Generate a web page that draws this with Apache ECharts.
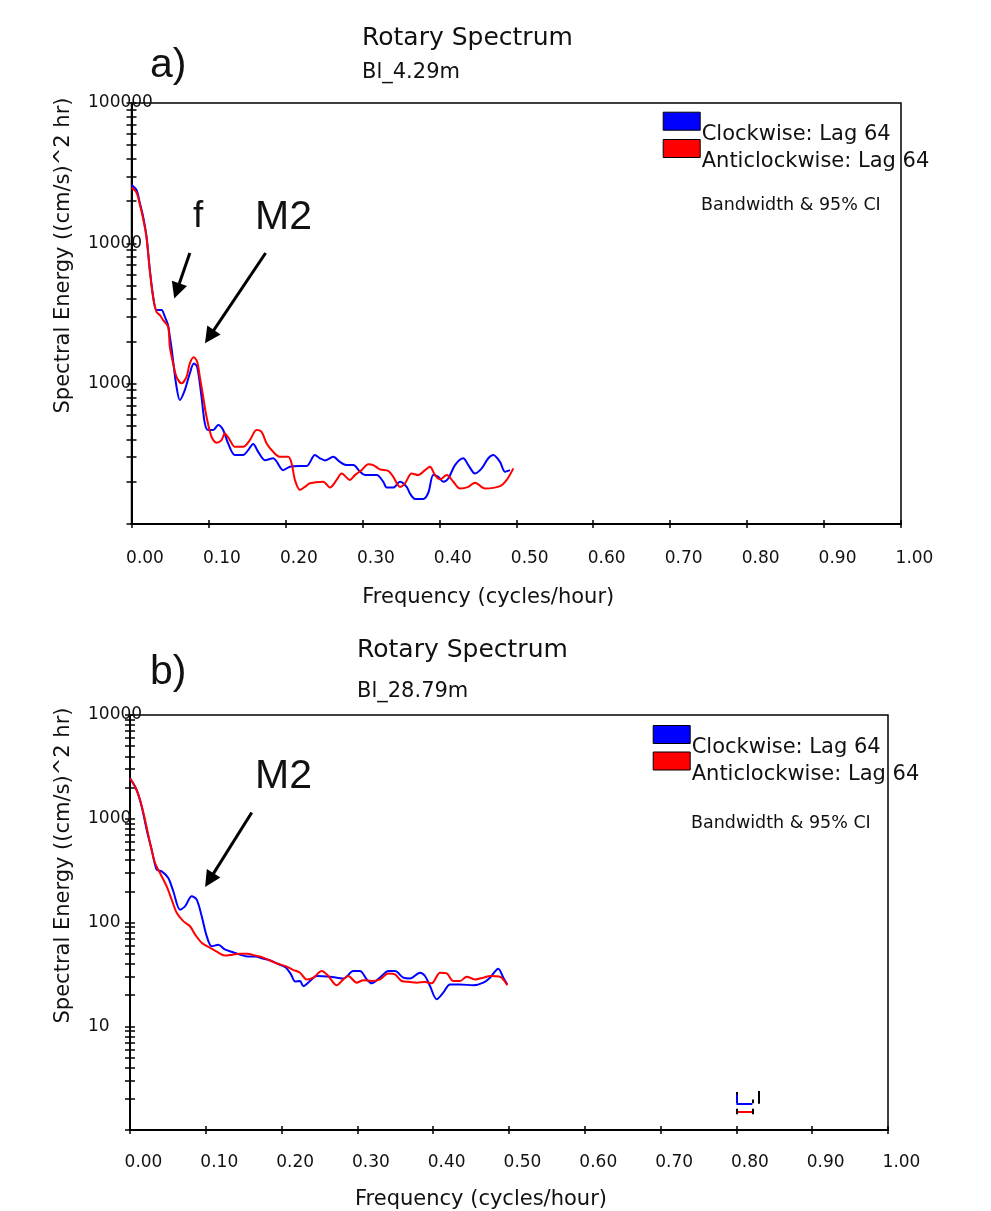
<!DOCTYPE html>
<html>
<head>
<meta charset="utf-8">
<title>Rotary Spectrum</title>
<script src="https://cdn.jsdelivr.net/npm/echarts/dist/echarts.min.js"></script>
<style>
  html, body { margin: 0; padding: 0; background: #fff; }
  #main { width: 991px; height: 1211px; }
</style>
</head>
<body>
<div id="main"></div>
<script>
// Rotary spectra of current at two depths (Bl_4.29m and Bl_28.79m)
// Each entry: [frequency (cycles/hour), spectral energy ((cm/s)^2 hr)]

const clockwiseA = [
  [0, 26000], [0.0065, 24000], [0.0108, 19400], [0.0151, 15500], [0.0195, 11200],
  [0.0238, 6500], [0.0281, 4200], [0.0325, 3350], [0.039, 3350], [0.0433, 3000],
  [0.0476, 2600], [0.0498, 2160], [0.052, 1800], [0.0541, 1450], [0.0585, 950],
  [0.0628, 764], [0.0693, 900], [0.0758, 1184], [0.081, 1390], [0.0853, 1320],
  [0.091, 807], [0.0953, 521], [0.0996, 467], [0.1061, 467], [0.1126, 507],
  [0.1191, 467], [0.1256, 375], [0.1343, 310], [0.1451, 310], [0.1516, 336],
  [0.1581, 371], [0.1646, 327], [0.1733, 285], [0.1841, 294], [0.1971, 242],
  [0.2058, 256], [0.2189, 259], [0.2276, 259], [0.2384, 310], [0.2449, 294],
  [0.2514, 284], [0.2622, 301], [0.2709, 277], [0.2796, 263], [0.2882, 263],
  [0.2969, 236], [0.3034, 223], [0.3186, 223], [0.3272, 200], [0.3316, 182],
  [0.3402, 182], [0.3489, 200], [0.3576, 184], [0.3619, 165], [0.3684, 151],
  [0.3792, 151], [0.3857, 167], [0.3922, 223], [0.3987, 217], [0.4052, 200],
  [0.4117, 211], [0.4204, 263], [0.4312, 294], [0.4377, 263], [0.4464, 229],
  [0.4551, 249], [0.4637, 294], [0.4702, 310], [0.4789, 277], [0.4854, 236],
  [0.4919, 242]
];

const anticlockwiseA = [
  [0, 25000], [0.0065, 23000], [0.0108, 19000], [0.0151, 15000], [0.0195, 11000],
  [0.0238, 6400], [0.0281, 4100], [0.0325, 3250], [0.0368, 3080], [0.0411, 2840],
  [0.0476, 2545], [0.0498, 1832], [0.0541, 1395], [0.0585, 1119], [0.065, 1005],
  [0.0715, 1119], [0.0758, 1395], [0.081, 1540], [0.0853, 1432], [0.0888, 1119],
  [0.0931, 807], [0.0975, 581], [0.104, 418], [0.1105, 379], [0.117, 396],
  [0.1213, 442], [0.1278, 396], [0.1343, 355], [0.1451, 355], [0.1538, 396],
  [0.1625, 467], [0.169, 454], [0.1756, 375], [0.1841, 327], [0.1928, 301],
  [0.2036, 301], [0.2081, 270], [0.2124, 206], [0.2189, 175], [0.2254, 184],
  [0.2319, 195], [0.2492, 200], [0.2579, 182], [0.2666, 206], [0.2731, 229],
  [0.2839, 206], [0.2904, 223], [0.2991, 242], [0.3077, 267], [0.3142, 263],
  [0.3229, 245], [0.3337, 239], [0.3402, 217], [0.3489, 184], [0.3554, 195],
  [0.3641, 229], [0.3727, 223], [0.3814, 242], [0.3879, 256], [0.3944, 223],
  [0.4009, 208], [0.4096, 223], [0.4182, 200], [0.4269, 179], [0.4377, 184],
  [0.4464, 197], [0.4594, 179], [0.4789, 186], [0.4876, 206], [0.4962, 249]
];

const clockwiseB = [
  [0, 2460], [0.0088, 1900], [0.0154, 1314], [0.022, 784], [0.0286, 503],
  [0.0352, 323], [0.0418, 311], [0.0505, 269], [0.0571, 200], [0.066, 133],
  [0.0726, 143], [0.0814, 179], [0.088, 166], [0.0946, 115], [0.1012, 74],
  [0.1078, 59], [0.1165, 61], [0.125, 55], [0.135, 52], [0.145, 49],
  [0.155, 47], [0.165, 47], [0.175, 45], [0.185, 43], [0.195, 40],
  [0.205, 37], [0.212, 32], [0.218, 27], [0.2243, 27.3], [0.2286, 24.4],
  [0.2375, 27.3], [0.2463, 30.5], [0.2639, 30], [0.2814, 28.8], [0.2946, 34],
  [0.3034, 34], [0.3123, 28.3], [0.3189, 25.9], [0.3298, 29.4], [0.3408, 34],
  [0.3496, 34], [0.3606, 29.4], [0.3694, 28.8], [0.3826, 32.8], [0.3892, 30.5],
  [0.3958, 24.4], [0.4046, 18.2], [0.4133, 21.1], [0.4222, 25.3], [0.4354, 25.3],
  [0.4529, 24.8], [0.4661, 26.3], [0.4749, 29.4], [0.4859, 35.9], [0.4925, 29.4],
  [0.4978, 25.3]
];

const anticlockwiseB = [
  [0, 2460], [0.0066, 2045], [0.0132, 1523], [0.0198, 978], [0.0264, 584],
  [0.033, 375], [0.0396, 300], [0.0484, 223], [0.055, 166], [0.0616, 124],
  [0.0703, 103], [0.0792, 92], [0.0858, 76.7], [0.0946, 63.8], [0.1055, 57.1],
  [0.115, 52], [0.125, 48], [0.135, 49], [0.145, 50], [0.155, 50],
  [0.165, 48], [0.175, 46], [0.185, 43], [0.195, 40], [0.205, 38],
  [0.215, 35], [0.2243, 32.8], [0.2331, 28.3], [0.2418, 29.4], [0.2529, 34],
  [0.2616, 30.5], [0.2727, 24.8], [0.2814, 28.3], [0.288, 30.5], [0.2991, 26.3],
  [0.3078, 27.8], [0.3189, 27.3], [0.3298, 28.3], [0.3408, 32.3], [0.3496, 31.6],
  [0.3584, 27.3], [0.3694, 26.7], [0.3782, 26.3], [0.3892, 26.7], [0.398, 25.9],
  [0.409, 32.8], [0.4178, 32.3], [0.4265, 27.3], [0.4354, 27.3], [0.4442, 30],
  [0.4551, 28.3], [0.4661, 29.4], [0.4749, 30.5], [0.4881, 30], [0.4978, 24.8]
];

// y-axis ranges (log scale) and labelled decades
const rangeA = [100, 100000];
const rangeB = [1, 10000];
const labelsA = [1000, 10000, 100000];
const labelsB = [10, 100, 1000, 10000];

// annotation arrows, [frequency, energy] from -> to
const arrowsA = [
  { from: [0.0758, 8530], to: [0.0589, 4586] },   // f
  { from: [0.1743, 8530], to: [0.1013, 2163] }    // M2
];
const arrowsB = [
  { from: [0.1606, 1150], to: [0.1047, 256] }     // M2
];

// bandwidth & 95% confidence interval indicator (lower panel)
const bandCW = [[0.80, 1.81], [0.821, 1.81]];
const bandCWStem = [[0.80, 2.33], [0.80, 1.81]];
const bandACW = [[0.80, 1.5], [0.822, 1.5]];
const ciBar = [[0.830, 2.37], [0.830, 1.79]];
const ciEnds = [
  [[0.80, 1.42], [0.80, 1.6]],
  [[0.822, 1.42], [0.822, 1.6]],
  [[0.821, 1.81], [0.821, 1.97]],
  [[0.80, 2.33], [0.80, 2.2]]
];

const NAMES = ['Clockwise: Lag 64', 'Anticlockwise: Lag 64'];
const FONT = '"DejaVu Sans", sans-serif';
const ARIAL = '"Liberation Sans", Arial, sans-serif';
const BLACK = '#000';

// 1..9 x 10^k minor/major tick values within a log range
function logTicks(range) {
  const out = [];
  for (let d = range[0]; d < range[1]; d *= 10) {
    for (let m = 1; m <= 9; m++) out.push(d * m);
  }
  out.push(range[1]);
  return out;
}

function xAxes(gridIndex, labelMargin, nameGap) {
  const base = {
    gridIndex, type: 'value', min: 0, max: 1, interval: 0.1, position: 'bottom',
    splitLine: { show: false }
  };
  return [
    Object.assign({}, base, {
      axisLine: { show: true, onZero: false, lineStyle: { color: BLACK, width: 2 } },
      axisTick: { show: true, length: 4, lineStyle: { color: BLACK, width: 1.5 } },
      axisLabel: {
        show: true, margin: labelMargin, color: '#111', fontFamily: FONT, fontSize: 17,
        padding: [0, 0, 0, 27], formatter: v => v.toFixed(2)
      },
      name: 'Frequency (cycles/hour)', nameLocation: 'middle', nameGap: nameGap,
      nameTextStyle: { color: '#111', fontFamily: FONT, fontSize: 21, padding: [0, 56, 0, 0] }
    }),
    Object.assign({}, base, {
      axisLine: { show: false, onZero: false },
      axisTick: { show: true, inside: true, length: 4, lineStyle: { color: BLACK, width: 1.5 } },
      axisLabel: { show: false }
    })
  ];
}

function yAxes(gridIndex, range, labels, labelMargin, nameGap, shiftUp) {
  const ticks = logTicks(range);
  const base = {
    gridIndex, type: 'log', logBase: 10, min: range[0], max: range[1], position: 'left',
    splitLine: { show: false }, minorTick: { show: false }
  };
  return [
    Object.assign({}, base, {
      axisLine: { show: true, onZero: false, lineStyle: { color: BLACK, width: 2 } },
      axisTick: { show: true, length: 5, customValues: ticks, lineStyle: { color: BLACK, width: 1.5 } },
      axisLabel: {
        show: true, customValues: labels, align: 'left', margin: labelMargin,
        color: '#111', fontFamily: FONT, fontSize: 17, padding: [5, 0, 0, 0],
        formatter: v => String(Math.round(v))
      },
      name: 'Spectral Energy ((cm/s)^2 hr)', nameLocation: 'middle', nameGap: nameGap,
      nameTextStyle: { color: '#111', fontFamily: FONT, fontSize: 21, padding: [0, 0, 0, shiftUp * 2] }
    }),
    Object.assign({}, base, {
      axisLine: { show: false, onZero: false },
      axisTick: { show: true, inside: true, length: 5, customValues: ticks, lineStyle: { color: BLACK, width: 1.5 } },
      axisLabel: { show: false }
    })
  ];
}

function arrowMarks(arrows) {
  return {
    silent: true, animation: false,
    symbol: ['none', 'triangle'], symbolSize: 16,
    label: { show: false },
    lineStyle: { color: BLACK, width: 3, type: 'solid' },
    itemStyle: { color: BLACK },
    data: arrows.map(a => [{ coord: a.from }, { coord: a.to }])
  };
}

function segment(pts, color, width) {
  return [
    { coord: pts[0], symbol: 'none', lineStyle: { color: color, width: width, type: 'solid' } },
    { coord: pts[1], symbol: 'none' }
  ];
}

function lineSeries(name, data, color, xi, yi, markLine) {
  const s = {
    name, type: 'line', data, xAxisIndex: xi, yAxisIndex: yi,
    showSymbol: false, symbol: 'none', smooth: 0.3,
    color: color, lineStyle: { color: color, width: 2 },
    animation: false, z: 3
  };
  if (markLine) s.markLine = markLine;
  return s;
}

// one swatch per entry; the entry text is set beside it as a caption
function swatch(name, left, top) {
  return {
    data: [name], orient: 'vertical', left: left, top: top, padding: 0,
    icon: 'rect', itemWidth: 37, itemHeight: 18, selectedMode: false,
    itemStyle: { borderColor: BLACK, borderWidth: 1 },
    formatter: () => ''
  };
}

function caption(text, left, top, size, family) {
  return {
    text, left, top, padding: 0,
    textStyle: { color: '#111', fontFamily: family || FONT, fontSize: size, fontWeight: 'normal' }
  };
}

const chart = echarts.init(document.getElementById('main'), null, { renderer: 'canvas' });

const bottomMarks = arrowMarks(arrowsB);
bottomMarks.data = bottomMarks.data.concat([
  segment(bandCW, '#0000ff', 2),
  segment(bandCWStem, '#0000ff', 2),
  segment(bandACW, '#ff0000', 2),
  segment(ciBar, BLACK, 2)
], ciEnds.map(e => segment(e, BLACK, 2)));

chart.setOption({
  backgroundColor: '#fff',
  animation: false,
  title: [
    caption('Rotary Spectrum', 362, 26, 25),
    caption('Bl_4.29m', 362, 62, 21),
    caption('a)', 150, 45, 41, ARIAL),
    caption('f', 193, 198, 37, ARIAL),
    caption('M2', 255, 197, 41, ARIAL),
    caption(NAMES[0], 701.7, 124.5, 21),
    caption(NAMES[1], 701.7, 151.2, 21),
    caption('Bandwidth & 95% CI', 701, 196, 17.5),
    caption('Rotary Spectrum', 357, 638, 25),
    caption('Bl_28.79m', 357, 681, 21),
    caption('b)', 150, 652, 41, ARIAL),
    caption('M2', 255, 756, 41, ARIAL),
    caption(NAMES[0], 691.7, 737.2, 21),
    caption(NAMES[1], 691.7, 763.8, 21),
    caption('Bandwidth & 95% CI', 691, 814, 17.5)
  ],
  legend: [
    swatch(NAMES[0], 662.7, 111.7),
    swatch(NAMES[1], 662.7, 139),
    swatch(NAMES[0], 652.7, 725),
    swatch(NAMES[1], 652.7, 751.5)
  ],
  grid: [
    { left: 131.5, top: 103, width: 769.5, height: 421, show: true, borderColor: BLACK, borderWidth: 1.5, backgroundColor: 'transparent' },
    { left: 130, top: 715, width: 758, height: 416, show: true, borderColor: BLACK, borderWidth: 1.5, backgroundColor: 'transparent' }
  ],
  xAxis: [].concat(xAxes(0, 26, 63), xAxes(1, 24, 59)),
  yAxis: [].concat(
    yAxes(0, rangeA, labelsA, 43.5, 57, 58),
    yAxes(1, rangeB, labelsB, 42, 55.5, 57)
  ),
  series: [
    lineSeries(NAMES[0], clockwiseA, '#0000ff', 0, 0, arrowMarks(arrowsA)),
    lineSeries(NAMES[1], anticlockwiseA, '#ff0000', 0, 0),
    lineSeries(NAMES[0], clockwiseB, '#0000ff', 2, 2, bottomMarks),
    lineSeries(NAMES[1], anticlockwiseB, '#ff0000', 2, 2)
  ]
});
</script>
</body>
</html>
